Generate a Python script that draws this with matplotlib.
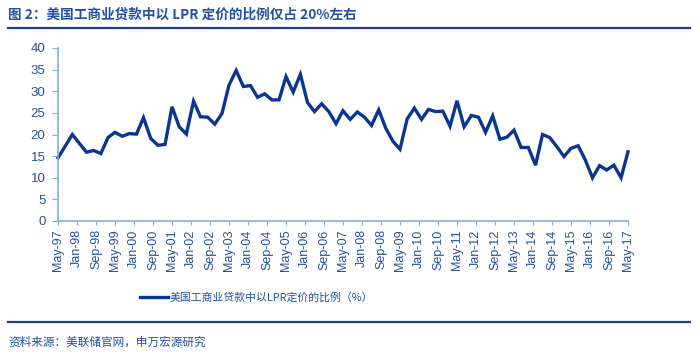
import pandas as pd
import matplotlib
matplotlib.use("Agg")
from matplotlib import pyplot as plt
from matplotlib.lines import Line2D

plt.rcParams['font.family'] = ['Liberation Sans', 'Noto Sans CJK SC']

# share of C&I loans priced off the prime rate (%), quarterly May-97 .. May-17
lpr_share = [14.6, 17.3, 20.0, 17.9, 15.9, 16.3, 15.6, 19.3, 20.5, 19.6,
             20.2, 20.1, 23.9, 19.1, 17.5, 17.7, 26.4, 21.8, 20.1, 27.7,
             24.1, 24.0, 22.4, 24.9, 31.4, 34.8, 31.1, 31.3, 28.6, 29.4,
             28.0, 28.0, 33.4, 29.8, 33.9, 27.4, 25.3, 27.1, 25.3, 22.5,
             25.5, 23.5, 25.2, 24.0, 22.1, 25.7, 21.4, 18.4, 16.6, 23.6,
             26.1, 23.5, 25.8, 25.3, 25.4, 21.9, 27.8, 21.8, 24.4, 24.0,
             20.5, 24.3, 18.9, 19.4, 21.0, 17.0, 17.0, 12.9, 20.0, 19.3,
             17.2, 14.9, 16.8, 17.4, 14.1, 10.0, 12.8, 11.8, 12.9, 10.0,
             16.0]
dates = pd.date_range('1997-05-01', periods=len(lpr_share), freq='3MS')
tick_dates = pd.date_range('1997-05-01', periods=31, freq='8MS')
tick_labels = list(tick_dates.strftime('%b-%y'))

title = '图 2：美国工商业贷款中以 LPR 定价的比例仅占 20%左右'
series_name = '美国工商业贷款中以LPR定价的比例（%）'
source = '资料来源：美联储官网，申万宏源研究'

line_col = '#0A3692'
axis_col = '#7DB0E2'
text_col = '#2450A2'

fig = plt.figure(figsize=(7, 3.55), dpi=100)
ax = fig.add_axes([58/700, 1-221/355, 570/700, 173/355])

ln, = ax.plot(dates, lpr_share, color=line_col, lw=2.4, solid_joinstyle='miter',
              clip_on=False)

ax.set_ylim(0, 40)
ax.set_yticks(range(0, 41, 5))
ax.set_xlim(dates[0], dates[-1])
ax.set_xticks(tick_dates)
ax.set_xticklabels(tick_labels, rotation=90)

for s in ['top', 'right']:
    ax.spines[s].set_visible(False)
for s in ['left', 'bottom']:
    ax.spines[s].set_color(axis_col)
    ax.spines[s].set_linewidth(1.2)
ax.tick_params(axis='y', direction='out', length=4, color=axis_col,
               labelcolor=text_col, labelsize=9.5, pad=5)
ax.tick_params(axis='x', direction='out', length=3, color=axis_col,
               labelcolor=text_col, labelsize=9, pad=3)

fig.legend([ln], [series_name], loc='center left', bbox_to_anchor=(140/700, 1-298/355),
           frameon=False, borderpad=0, borderaxespad=0, handlelength=2.6,
           handletextpad=0.1, labelcolor=text_col,
           prop={'family': ['Noto Sans CJK SC'], 'size': 7.8})

fig.text(8/700, 1-15/355, title, color='#2450A2', fontsize=9.8, fontweight='bold',
         va='center', ha='left', family=['Noto Sans CJK SC'])
fig.add_artist(Line2D([8/700, 690/700], [1-28/355]*2, color='#1E3C94', lw=1.6))
fig.add_artist(Line2D([8/700, 690/700], [1-322/355]*2, color='#1E3C94', lw=1.6))
fig.text(8/700, 1-342/355, source, color=text_col, fontsize=8.4,
         va='center', ha='left', family=['Noto Sans CJK SC'])

fig.savefig('out.png', dpi=100)
